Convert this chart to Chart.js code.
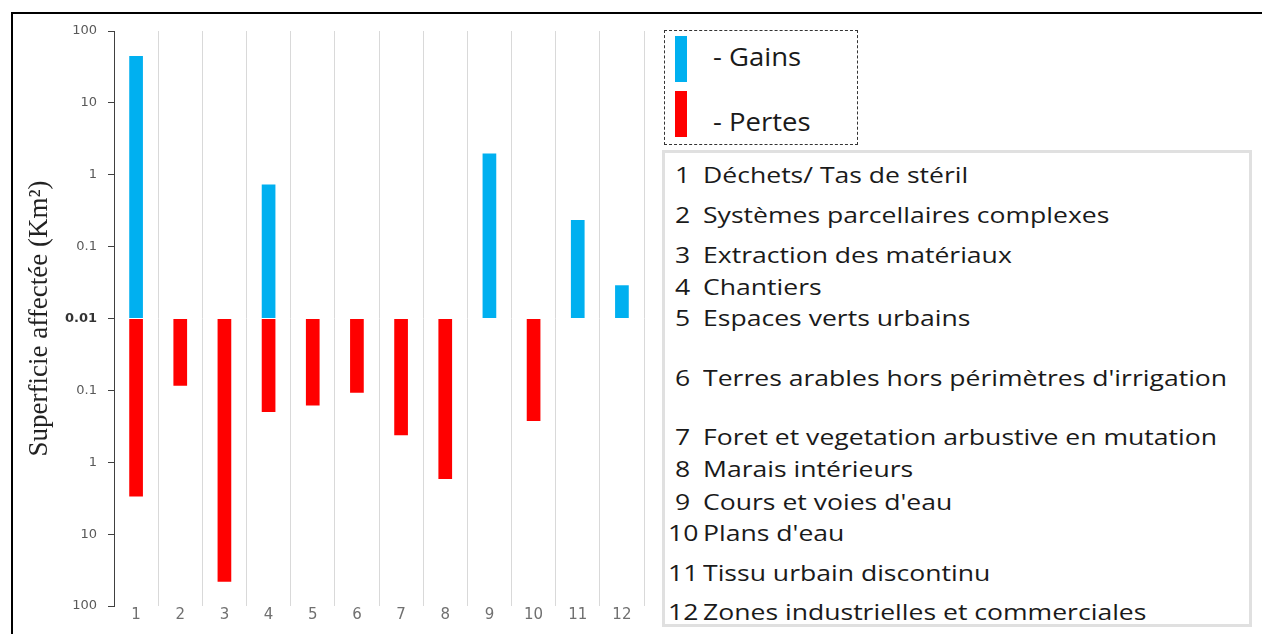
<!DOCTYPE html>
<html>
<head>
<meta charset="utf-8">
<script src="https://cdn.jsdelivr.net/npm/chart.js@4.4.1/dist/chart.umd.min.js"></script>
<style>
  html, body { margin: 0; padding: 0; background: #fff; }
  #page { position: relative; width: 1262px; height: 634px; overflow: hidden; font-family: 'Open Sans', sans-serif; color: #1a1a1a; }
  #frame { position: absolute; left: 11px; top: 12px; width: 1300px; height: 700px; border-top: 2px solid #000; border-left: 2px solid #000; }
  #plot { position: absolute; left: 0; top: 0; }
  #key { position: absolute; left: 664px; top: 30px; width: 192px; height: 113px; border: 1px dashed #333; }
  .swatch { position: absolute; left: 10px; width: 12px; height: 46px; }
  .key-label { position: absolute; left: 48px; font-size: 25px; line-height: 30px; height: 30px; white-space: nowrap; transform: scaleX(1.1); transform-origin: left center; }
  #names { position: absolute; left: 662px; top: 150px; width: 584px; height: 471px; border: 3px solid #e0e0e0; }
  .cell { position: absolute; font-size: 21px; line-height: 28px; height: 28px; white-space: nowrap; transform: scaleX(1.265); transform-origin: left center; }
</style>
</head>
<body>
<div id="page">
  <div id="frame"></div>
  <canvas id="plot" width="660" height="634"></canvas>
  <div id="key">
    <div class="swatch" style="top:5px;background:#00b0f0"></div>
    <div class="key-label" style="top:10px">- Gains</div>
    <div class="swatch" style="top:60px;background:#ff0000"></div>
    <div class="key-label" style="top:75px">- Pertes</div>
  </div>
  <div id="rows"></div>
</div>
<script>
// Surfaces gagnées / perdues par classe d'occupation du sol (km²)
const categories = ['1', '2', '3', '4', '5', '6', '7', '8', '9', '10', '11', '12'];
const classNames = [
  'Déchets/ Tas de stéril',
  'Systèmes parcellaires complexes',
  'Extraction des matériaux',
  'Chantiers',
  'Espaces verts urbains',
  "Terres arables hors périmètres d'irrigation",
  'Foret et vegetation arbustive en mutation',
  'Marais intérieurs',
  "Cours et voies d'eau",
  "Plans d'eau",
  'Tissu urbain discontinu',
  'Zones industrielles et commerciales',
];
const gains = [45, null, null, 0.73, null, null, null, null, 1.98, null, 0.235, 0.029];
const losses = [3.0, 0.086, 46, 0.2, 0.162, 0.108, 0.42, 1.71, null, 0.267, null, null];
// axis reads 100 -> 0.01 upwards for gains, then 0.01 -> 100 downwards for losses
const tickLabels = ['100', '10', '1', '0.1', '0.01', '0.1', '1', '10', '100'];

// vertical centre of each line in the class list
const rowCentres = [175, 215, 255, 287, 318, 378, 437, 469, 502, 533, 573, 612];

const FLOOR = 0.01;
const decades = (v) => (v == null ? null : Math.log10(v / FLOOR));

const rows = document.getElementById('rows');
classNames.forEach((name, i) => {
  const top = rowCentres[i] - 14;
  const num = document.createElement('div');
  num.className = 'cell';
  num.textContent = categories[i];
  num.style.top = top + 'px';
  num.style.left = (categories[i].length > 1 ? 668 : 675) + 'px';
  const txt = document.createElement('div');
  txt.className = 'cell';
  txt.textContent = name;
  txt.style.top = top + 'px';
  txt.style.left = '703px';
  rows.append(num, txt);
});
const box = document.createElement('div');
box.id = 'names';
document.getElementById('page').insertBefore(box, rows);

new Chart(document.getElementById('plot'), {
  type: 'bar',
  data: {
    labels: categories,
    datasets: [
      { label: 'Gains', data: gains.map(decades), backgroundColor: '#00b0f0', grouped: false },
      { label: 'Pertes', data: losses.map((v) => (v == null ? null : -decades(v))), backgroundColor: '#ff0000', grouped: false },
    ],
  },
  options: {
    responsive: false,
    animation: false,
    devicePixelRatio: 1,
    barPercentage: 0.31,
    categoryPercentage: 1,
    layout: { padding: { left: 14, right: 16, top: 31, bottom: 10 } },
    plugins: { legend: { display: false }, tooltip: { enabled: false } },
    scales: {
      x: {
        grid: { offset: true, color: '#d9d9d9', drawTicks: false },
        border: { display: false },
        ticks: { color: '#707070', font: { family: 'DejaVu Sans', size: 15 }, padding: 0, maxRotation: 0, autoSkip: false },
      },
      y: {
        min: -4,
        max: 4,
        afterFit: (scale) => { scale.width = 100; },
        ticks: {
          stepSize: 1,
          padding: 11,
          color: (c) => (c.tick && c.tick.value === 0 ? '#333' : '#595959'),
          font: (c) => ({ family: 'DejaVu Sans', size: 13, weight: c.tick && c.tick.value === 0 ? 'bold' : 'normal' }),
          callback: (v) => tickLabels[4 - v],
        },
        grid: { drawOnChartArea: false, tickLength: 6, color: '#404040' },
        border: { color: '#404040' },
        title: {
          display: true,
          text: 'Superficie affectée (Km²)',
          color: '#222',
          font: { family: "'Liberation Serif', 'Times New Roman', serif", size: 27 },
          padding: { top: 10 },
        },
      },
    },
  },
});
</script>
</body>
</html>
